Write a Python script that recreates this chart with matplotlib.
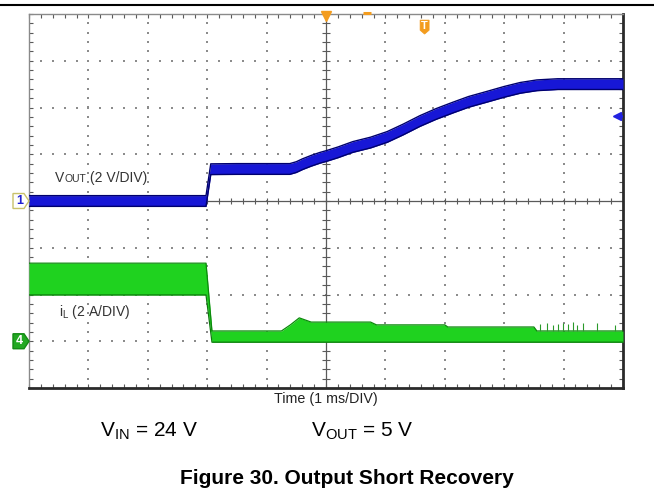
import numpy as np
import matplotlib.pyplot as plt
import matplotlib.transforms as mtransforms
from matplotlib.lines import Line2D
from matplotlib.patches import Polygon
from matplotlib.offsetbox import TextArea, HPacker, AnnotationBbox

plt.rcParams['font.family'] = ['Liberation Sans', 'DejaVu Sans']

# scope screen: 10 x 8 divisions, 1 ms/div
n_xdiv, n_ydiv = 10, 8
v_per_div = 2.0      # ch1, V_OUT
a_per_div = 2.0      # ch4, i_L
ch1_ground = 4.0     # divisions from the bottom
ch4_ground = 1.0
trig_level = 5.82    # divisions

# V_OUT, centre of the trace (time in ms, volts)
t_vout = [0.0, 2.98, 3.06, 3.5, 4.0, 4.39, 4.5, 4.6, 4.75, 4.9, 5.0, 5.2, 5.45,
          5.75, 6.03, 6.3, 6.58, 6.85, 7.14, 7.4, 7.71, 8.0, 8.27, 8.55, 8.9,
          9.39, 10.0]
vout = [0.0, 0.0, 1.36, 1.37, 1.37, 1.37, 1.45, 1.57, 1.72, 1.85, 1.92, 2.08,
        2.31, 2.50, 2.74, 3.06, 3.42, 3.72, 4.0, 4.24, 4.46, 4.67, 4.84, 4.95,
        5.0, 5.0, 5.0]
vout_halfband = 0.23  # volts, noise envelope

# inductor current envelope (time in ms, amps)
t_il = [0.0, 2.98, 3.08, 4.25, 4.4, 4.55, 4.75, 5.75, 5.85, 7.0, 7.05,
        8.5, 8.55, 10.0]
il_hi = [3.34, 3.34, 0.44, 0.44, 0.70, 1.0, 0.82, 0.82, 0.70, 0.70, 0.61,
         0.61, 0.44, 0.44]
il_lo = [1.98, 1.98, -0.04, -0.04, -0.04, -0.04, -0.04, -0.04, -0.04,
         -0.04, -0.04, -0.04, -0.04, -0.04]

# short current spikes near the end of the record
spike_t = [8.6, 8.72, 8.82, 8.91, 8.99, 9.07, 9.16, 9.23, 9.33, 9.56, 9.87]
spike_a = [0.72, 0.76, 0.7, 0.74, 0.8, 0.72, 0.82, 0.7, 0.78, 0.76, 0.68]

W, H = 654, 503
fig = plt.figure(figsize=(W / 100, H / 100), dpi=100)
ax = fig.add_axes([29 / W, 1 - 388 / H, 594 / W, 374 / H])
ax.set_xlim(0, n_xdiv)
ax.set_ylim(0, n_ydiv)

# graticule: dotted division lines
dots_x, dots_y = [], []
minor_y = np.arange(0.2, n_ydiv, 0.2)
minor_x = np.arange(0.2, n_xdiv, 0.2)
for gx in range(1, n_xdiv):
    if gx != 5:
        dots_x.extend([gx] * len(minor_y))
        dots_y.extend(minor_y)
for gy in range(1, n_ydiv):
    if gy != 4:
        dots_x.extend(minor_x)
        dots_y.extend([gy] * len(minor_x))
ax.scatter(dots_x, dots_y, s=1.3, marker='s', color='#8c8c8c', linewidths=0, zorder=1)

# centre cross with small ticks
ax.axvline(5, color='#5a5a5a', lw=0.9, zorder=1)
ax.axhline(4, color='#5a5a5a', lw=0.9, zorder=1)
ax.hlines(minor_y, 5 - 0.06, 5 + 0.06, color='#5a5a5a', lw=0.8, zorder=1)
ax.vlines(minor_x, 4 - 0.07, 4 + 0.07, color='#5a5a5a', lw=0.8, zorder=1)

# border ticks
ax.set_xticks(np.arange(0, n_xdiv + 0.01, 0.2))
ax.set_yticks(np.arange(0, n_ydiv + 0.01, 0.2))
ax.tick_params(direction='in', length=3, width=0.8, color='#5a5a5a',
               top=True, bottom=True, left=True, right=True,
               labelbottom=False, labelleft=False)
for side in ['left', 'top']:
    ax.spines[side].set_color('#8a8a8a')
    ax.spines[side].set_linewidth(1.0)
for side in ['right', 'bottom']:
    ax.spines[side].set_color('#2a2a2a')
    ax.spines[side].set_linewidth(2.0)

# V_OUT trace
tv = np.array(t_vout)
cv = ch1_ground + np.array(vout) / v_per_div
hw = vout_halfband / v_per_div
ax.fill_between(tv, cv - hw, cv + hw, color='#1717d6', lw=0, zorder=3)
ax.plot(tv, cv + hw, color='#00006e', lw=1.0, zorder=4)
ax.plot(tv, cv - hw, color='#00006e', lw=1.0, zorder=4)

# i_L trace
ti = np.array(t_il)
hi = ch4_ground + np.array(il_hi) / a_per_div
lo = ch4_ground + np.array(il_lo) / a_per_div
ax.fill_between(ti, lo, hi, color='#1fd21f', lw=0, zorder=3)
ax.plot(ti, hi, color='#0c8a0c', lw=0.9, zorder=4)
ax.plot(ti, lo, color='#0c7a0c', lw=0.9, zorder=4)
ax.vlines(spike_t, ch4_ground + 0.44 / a_per_div,
          ch4_ground + np.array(spike_a) / a_per_div,
          color='#2a9a2a', lw=0.8, zorder=4)

# channel labels
txt_col = '#333333'
parts = [TextArea('V', textprops=dict(fontsize=10, color=txt_col)),
         TextArea('OUT', textprops=dict(fontsize=7.5, color=txt_col)),
         TextArea(' (2 V/DIV)', textprops=dict(fontsize=10, color=txt_col))]
pack = HPacker(children=parts, align='baseline', pad=0, sep=0)
ax.add_artist(AnnotationBbox(pack, (0.44, 4.49), xycoords='data', frameon=False,
                             box_alignment=(0, 0.5), pad=0))
ax.text(0.5, 1.63, r'i$_\mathregular{L}$ (2 A/DIV)', fontsize=10, color=txt_col,
        va='center', ha='left')

ax.set_xlabel('Time (1 ms/DIV)', fontsize=10.3, color='#222222', labelpad=3)

# channel ground markers (left of screen)
blend = mtransforms.blended_transform_factory(ax.transAxes, ax.transData)
def ground_marker(y, label, face, edge, tcol):
    x0, x1, x2 = -16 / 594, -5 / 594, 0.0
    h = 0.16
    poly = Polygon([(x0, y - h), (x1, y - h), (x2, y), (x1, y + h), (x0, y + h)],
                   closed=True, transform=blend, facecolor=face, edgecolor=edge,
                   lw=1.0, clip_on=False, zorder=6)
    ax.add_patch(poly)
    ax.text((x0 + x1) / 2 + 0.002, y, label, transform=blend, ha='center', va='center',
            fontsize=9, color=tcol, fontweight='bold', clip_on=False, zorder=7)

ground_marker(ch1_ground, '1', 'white', '#c9c26a', '#2020d0')
ground_marker(ch4_ground, '4', '#22a822', '#138a13', 'white')

# trigger markers
orange = '#f39c1e'
ax.plot([5], [7.95], marker='v', markersize=7, color=orange, clip_on=False, zorder=6)
ax.plot([5.63, 5.75], [8.03, 8.03], color=orange, lw=2.2, clip_on=False,
        solid_capstyle='butt', zorder=6)
tx, ty = 6.66, 7.72
dx, dy = 4.5 / 59.4, 7 / 46.75
ax.add_patch(Polygon([(tx - dx, ty + dy), (tx + dx, ty + dy), (tx + dx, ty - dy * 0.45),
                      (tx, ty - dy), (tx - dx, ty - dy * 0.45)],
                     closed=True, facecolor=orange, edgecolor=orange, lw=0.5, zorder=6))
ax.text(tx, ty + 0.02, 'T', ha='center', va='center', fontsize=8, color='white',
        fontweight='bold', zorder=7)
# trigger level arrow on the right edge
trig_blue = '#2222e0'
ax.plot([9.9, 9.98], [trig_level, trig_level], color=trig_blue, lw=1.8, zorder=6)
ax.plot([9.9], [trig_level], marker='<', markersize=6, color=trig_blue, zorder=6)

# page rule and caption text
fig.add_artist(Line2D([0, 1], [1 - 4.5 / H] * 2, color='black', lw=1.5))
fig.text(149 / W, 1 - 431 / H, r'V$_\mathregular{IN}$ = 24 V', fontsize=15,
         ha='center', va='center', color='black')
fig.text(362 / W, 1 - 431 / H, r'V$_\mathregular{OUT}$ = 5 V', fontsize=15,
         ha='center', va='center', color='black')
fig.text(346.5 / W, 1 - 478 / H, 'Figure 30. Output Short Recovery', fontsize=15,
         fontweight='bold', ha='center', va='center', color='black')

fig.savefig('out.png', dpi=100)
